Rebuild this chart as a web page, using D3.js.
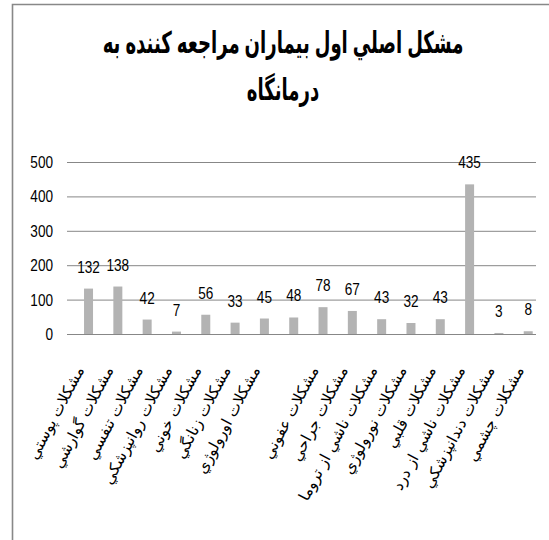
<!DOCTYPE html>
<html><head><meta charset="utf-8">
<script src="https://cdn.jsdelivr.net/npm/d3@7"></script>
<style>body{margin:0;background:#fff}</style></head><body>
<script>
const titleLines = ["مشکل اصلي اول بيماران مراجعه كننده به", "درمانگاه"];
const categories = [
  "مشكلات پوستي", "مشكلات گوارشي", "مشكلات تنفسي", "مشكلات روانپزشكي",
  "مشكلات خوني", "مشكلات زنانگي", "مشكلات اورولوژي", "",
  "مشكلات عفوني", "مشكلات جراحي", "مشكلات ناشي از تروما", "مشكلات نورولوژي",
  "مشكلات قلبي", "مشكلات ناشي از درد", "مشكلات دندانپزشكي", "مشكلات چشمي"
];
const values = [132, 138, 42, 7, 56, 33, 45, 48, 78, 67, 43, 32, 43, 435, 3, 8];
const yTicks = [0, 100, 200, 300, 400, 500];

const W = 549, H = 540;
const numFont = "'Liberation Sans', Arial, sans-serif";
const narrow = 0.8;
const svg = d3.select("body").append("svg").attr("width", W).attr("height", H);
svg.append("rect").attr("width", W).attr("height", H).attr("fill", "#fff");
svg.append("path").attr("d", "M12.5,540 V4.5 H549").attr("fill", "none")
  .attr("stroke", "#888").attr("stroke-width", 1.6);

const x = d3.scaleBand().domain(d3.range(categories.length)).range([67, 536]).padding(0);
const inner = d3.scaleBand().domain(["s1", "s2"]).range([0, x.bandwidth()])
  .paddingInner(0).paddingOuter(0.63).align(0.71);
const y = d3.scaleLinear().domain([0, 500]).range([334, 162]);

// title (scaled horizontally to match the condensed original face)
const titleG = svg.append("g");
const tt = titleG.selectAll("text").data(titleLines).join("text")
  .attr("text-anchor", "middle")
  .attr("font-family", "'Liberation Sans', 'DejaVu Sans', sans-serif")
  .attr("font-weight", "bold").attr("font-size", 30).attr("fill", "#000")
  .text(d => d);
const w1 = tt.nodes()[0].getComputedTextLength();
const k = 361 / w1;
tt.attr("transform", (d, i) => `translate(283,${53 + i * 47}) scale(${k},1)`);

// y axis with gridlines
const yAxis = svg.append("g").attr("transform", "translate(67,0)")
  .call(d3.axisLeft(y).tickValues(yTicks).tickSize(-(536 - 67)).tickPadding(14).tickFormat(d3.format("d")));
yAxis.select(".domain").remove();
yAxis.selectAll(".tick line").attr("stroke", "#878787").attr("stroke-width", 1);
yAxis.selectAll(".tick text").attr("font-family", numFont).attr("font-size", 17).attr("fill", "#000")
  .attr("x", 0).attr("transform", `translate(-14,0) scale(${narrow},1)`);

// bars
svg.append("g").selectAll("rect").data(values).join("rect")
  .attr("x", (d, i) => x(i) + inner("s2"))
  .attr("width", inner.bandwidth())
  .attr("y", d => y(d))
  .attr("height", d => y(0) - y(d))
  .attr("fill", "#b3b3b3");

// value labels
svg.append("g").selectAll("text").data(values).join("text")
  .attr("transform", (d, i) => `translate(${x(i) + inner("s2") + inner.bandwidth() / 2},${y(d) - 16}) scale(${narrow},1)`)
  .attr("text-anchor", "middle")
  .attr("font-family", numFont).attr("font-size", 17).attr("fill", "#000")
  .text(d => d);

// category labels
svg.append("g").selectAll("text").data(categories).join("text")
  .attr("transform", (d, i) => `translate(${x(i) + x.bandwidth() / 2 + 3},370) rotate(-62)`)
  .attr("text-anchor", "end")
  .attr("font-family", "'DejaVu Sans', sans-serif")
  .attr("font-size", 15.5).attr("fill", "#000")
  .text(d => d);
</script>
</body></html>
